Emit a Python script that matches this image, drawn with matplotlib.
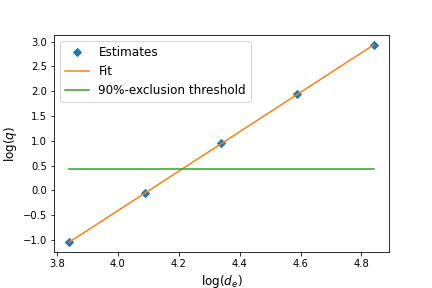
import matplotlib
matplotlib.use("Agg")
import matplotlib.pyplot as plt

log_de = [3.84, 4.09, 4.34, 4.59, 4.84]
log_q = [-1.04, -0.05, 0.95, 1.94, 2.93]
fit_x = [3.84, 4.84]
fit_y = [-1.04, 2.93]
thresh_x = [3.84, 4.84]
thresh_y = [0.43, 0.43]

fig, ax = plt.subplots(figsize=(6, 4), dpi=72)
fig.subplots_adjust(left=0.125, right=0.9, top=0.878, bottom=0.125)
ax.plot(log_de, log_q, 'D', color='C0', label='Estimates', markersize=5.5)
ax.plot(fit_x, fit_y, '-', color='C1', label='Fit')
ax.plot(thresh_x, thresh_y, '-', color='C2', label='90%-exclusion threshold')
ax.set_xlabel(r'$\log(d_e)$', fontsize=12)
ax.set_ylabel(r'$\log(q)$', fontsize=12)
ax.legend(fontsize=12, loc='upper left')
fig.savefig('out.png', dpi=72)
